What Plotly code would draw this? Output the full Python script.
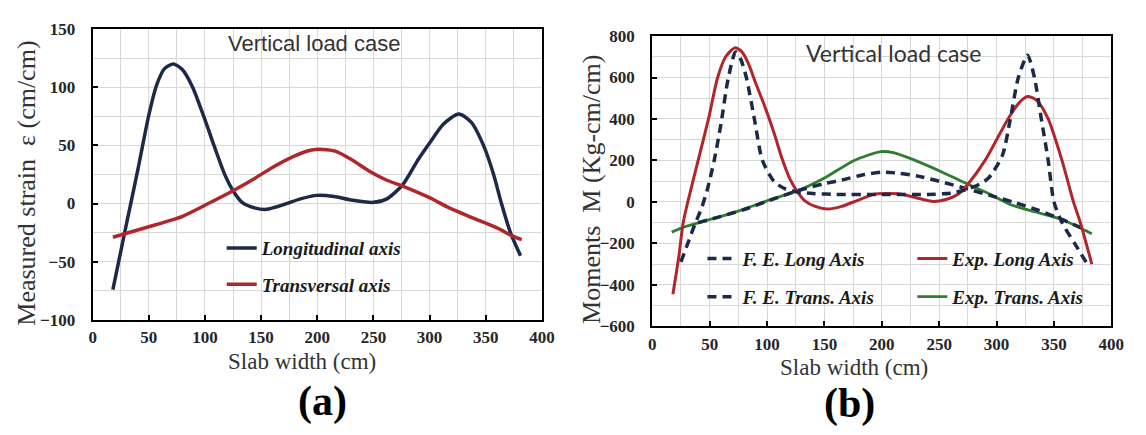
import plotly.graph_objects as go

W, H = 1146, 435

# ---------------- Panel (a): measured strain ----------------
a_long_x = [18, 30, 40, 50, 57, 64, 72, 80, 89, 100, 108, 118, 125, 133, 145, 155, 170, 185, 200,
            215, 230, 250, 262, 276, 290, 300, 312, 326, 337, 348, 357, 364, 372, 381]
a_long_y = [-74, -18, 28, 76, 102, 116, 120, 115, 100, 72, 50, 24, 11, 1, -4, -5, -1, 4, 7,
            6, 3, 1, 4, 16, 38, 52, 68, 77, 70, 50, 25, 0, -25, -45]

a_trans_x = [18, 50, 80, 103, 125, 145, 160, 180, 195, 205, 216, 230, 246, 262, 276, 300, 318, 340, 360, 374, 382]
a_trans_y = [-29, -20, -11, 0, 11, 22, 31, 41, 46, 46.5, 45, 38, 28, 20, 15, 5, -4, -13, -21, -28, -31]

# ---------------- Panel (b): moments ----------------
fe_long_x = [25, 31, 37, 43, 48, 54, 60, 66, 72.6, 77, 82, 89, 96, 106, 115, 127, 140, 160, 200, 240, 260,
             275, 285, 293, 305, 312, 319, 327, 333, 339, 345, 350, 357, 368, 379]
fe_long_y = [-290, -200, -110, -30, 60, 200, 380, 590, 723, 690, 600, 400, 200, 100, 65, 48, 40, 36, 35, 36, 42,
             62, 85, 115, 223, 400, 600, 708, 600, 400, 200, 0, -100, -200, -300]

exp_long_x = [18, 23, 27, 31, 40, 49, 57, 64, 72, 78, 84, 90, 96, 102, 108, 113, 120, 127, 133, 142, 153, 165,
              178, 193, 205, 216, 230, 245, 258, 267, 275, 290, 310, 320, 327, 335, 345, 357, 367, 373, 383]
exp_long_y = [-446, -270, -100, 0, 200, 400, 600, 700, 743, 725, 665, 575, 490, 400, 300, 210, 110, 45, 5, -22, -35, -22,
              5, 37, 40, 38, 20, 2, 15, 39, 85, 200, 400, 480, 508, 490, 400, 200, 0, -100, -300]

fe_trans_x = [40, 60, 80, 100, 127, 150, 165, 185, 200, 215, 235, 255, 275, 295, 315, 335, 357, 379]
fe_trans_y = [-100, -70, -37, 3, 54, 88, 105, 132, 143, 138, 120, 92, 62, 30, -2, -38, -85, -138]

exp_trans_x = [17, 27, 50, 75, 100, 127, 150, 176, 199, 210, 227, 250, 275, 295, 313, 335, 357, 383]
exp_trans_y = [-146, -123, -86, -45, 5, 54, 115, 200, 242, 238, 205, 150, 85, 35, -15, -50, -85, -154]

x_ticks = [0, 50, 100, 150, 200, 250, 300, 350, 400]

NAVY = "#1c2a48"
RED = "#b1262b"
GREEN = "#2f7d32"

fig = go.Figure()

def line(x, y, color, width, name, xa, ya, leg, dash=None):
    fig.add_trace(go.Scatter(
        x=x, y=y, mode="lines", name=name, xaxis=xa, yaxis=ya, legend=leg,
        line=dict(color=color, width=width, shape="spline", smoothing=0.7, dash=dash),
        hoverinfo="skip"))

line(a_long_x, a_long_y, NAVY, 3.5, "Longitudinal axis", "x", "y", "legend")
line(a_trans_x, a_trans_y, RED, 3.5, "Transversal axis", "x", "y", "legend2")

line(exp_trans_x, exp_trans_y, GREEN, 2.8, "Exp. Trans. Axis", "x2", "y2", "legend6")
line(fe_trans_x, fe_trans_y, NAVY, 3.5, "F. E. Trans. Axis", "x2", "y2", "legend5", dash="9px,6px")
line(exp_long_x, exp_long_y, RED, 3.0, "Exp. Long Axis", "x2", "y2", "legend4")
line(fe_long_x, fe_long_y, NAVY, 3.5, "F. E. Long Axis", "x2", "y2", "legend3", dash="9px,6px")

GRID = "#d8d8d8"
TICKFONT = dict(family="Liberation Serif", size=17, color="#262626", weight="bold")

def xax(domain, anchor):
    return dict(domain=domain, anchor=anchor, range=[0, 400], tickvals=x_ticks,
                showgrid=True, gridcolor=GRID, gridwidth=1,
                minor=dict(dtick=25, showgrid=True, gridcolor=GRID, gridwidth=1, ticks=""),
                showline=True, linecolor="black", linewidth=2, mirror=True,
                ticks="inside", ticklen=5, tickwidth=2, tickcolor="black",
                tickfont=TICKFONT, zeroline=False, ticklabelstandoff=1)

def yax(domain, anchor, rng, dtick, mdtick):
    return dict(domain=domain, anchor=anchor, range=rng, dtick=dtick,
                showgrid=True, gridcolor=GRID, gridwidth=1,
                minor=dict(dtick=mdtick, showgrid=True, gridcolor=GRID, gridwidth=1, ticks=""),
                showline=True, linecolor="black", linewidth=2, mirror=True,
                ticks="inside", ticklen=5, tickwidth=2, tickcolor="black",
                tickfont=TICKFONT, zeroline=False, ticklabelstandoff=12)

def px_x(p):
    return p / W

def px_y(p):
    return 1 - p / H

LEGFONT = dict(family="Liberation Serif", size=19, color="#1a1a1a", weight="bold", style="italic")

def leg(xp, yp):
    return dict(x=px_x(xp), y=px_y(yp), xanchor="left", yanchor="middle",
                bgcolor="rgba(0,0,0,0)", font=LEGFONT, itemwidth=30,
                borderwidth=0, tracegroupgap=0)

fig.update_layout(
    width=W, height=H, margin=dict(l=0, r=0, t=0, b=0),
    paper_bgcolor="white", plot_bgcolor="white",
    xaxis=xax([px_x(90), px_x(546)], "y"),
    yaxis=yax([px_y(325), px_y(21)], "x", [-100, 150], 50, 25),
    xaxis2=xax([px_x(658), px_x(1124)], "y2"),
    yaxis2=yax([px_y(331.7), px_y(28.3)], "x2", [-600, 800], 200, 100),
    legend=leg(221, 250),
    legend2=leg(221, 288),
    legend3=leg(709, 261),
    legend4=leg(922, 261),
    legend5=leg(709, 301),
    legend6=leg(922, 301),
    showlegend=True,
)

SERIF = "Liberation Serif"
ann = [
    dict(text="Vertical load case", x=197, y=138, xref="x", yref="y",
         font=dict(family="Liberation Sans", size=22, color="#333333")),
    dict(text="Vertical load case", x=210, y=716, xref="x2", yref="y2",
         font=dict(family="Lato", size=23, color="#333333")),
    dict(text="Slab width (cm)", x=px_x(302), y=px_y(369), xref="paper", yref="paper",
         font=dict(family=SERIF, size=23, color="#333333")),
    dict(text="Slab width (cm)", x=px_x(863), y=px_y(375), xref="paper", yref="paper",
         font=dict(family=SERIF, size=23, color="#333333")),
    dict(text="Measured strain  \u03b5 (cm/cm)", x=px_x(22), y=px_y(182), xref="paper", yref="paper",
         textangle=-90, font=dict(family=SERIF, size=26, color="#333333")),
    dict(text="Moments  M (Kg-cm/cm)", x=px_x(597), y=px_y(189), xref="paper", yref="paper",
         textangle=-90, font=dict(family=SERIF, size=26, color="#333333")),
    dict(text="(a)", x=px_x(323), y=px_y(410), xref="paper", yref="paper",
         font=dict(family=SERIF, size=42, color="black", weight="bold")),
    dict(text="(b)", x=px_x(858), y=px_y(412), xref="paper", yref="paper",
         font=dict(family=SERIF, size=42, color="black", weight="bold")),
]
for a in ann:
    a.update(showarrow=False, xanchor="center", yanchor="middle")
    fig.add_annotation(**a)

fig.write_html("out.html")
